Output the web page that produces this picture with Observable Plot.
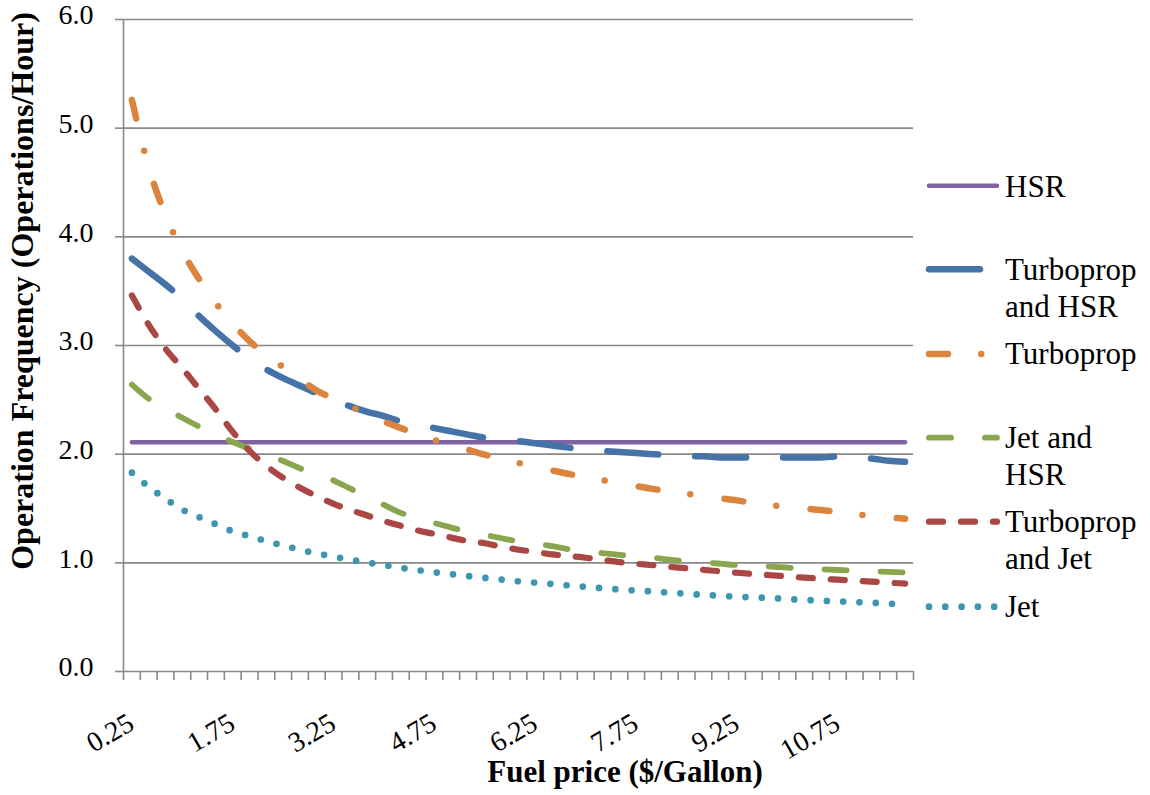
<!DOCTYPE html>
<html>
<head>
<meta charset="utf-8">
<script src="https://cdn.jsdelivr.net/npm/d3@7"></script>
<script src="https://cdn.jsdelivr.net/npm/@observablehq/plot@0.6"></script>
<style>
  body { margin: 0; background: #fff; }
  #wrap { position: relative; width: 1150px; height: 795px; font-family: 'Liberation Serif', 'Times New Roman', serif; }
  #legend { position: absolute; left: 0; top: 0; pointer-events: none; }
</style>
</head>
<body>
<div id="wrap"></div>
<script>
// ---- Data ----
const prices = [0.25, 0.5, 0.75, 1, 1.25, 1.5, 1.75, 2, 2.25, 2.5, 2.75, 3, 3.25, 3.5, 3.75, 4,
  4.25, 4.5, 4.75, 5, 5.25, 5.5, 5.75, 6, 6.25, 6.5, 6.75, 7, 7.25, 7.5, 7.75, 8,
  8.25, 8.5, 8.75, 9, 9.25, 9.5, 9.75, 10, 10.25, 10.5, 10.75, 11, 11.25, 11.5, 11.75];

const xTickValues = [0.25, 1.75, 3.25, 4.75, 6.25, 7.75, 9.25, 10.75];
const xTickLabels = ["0.25", "1.75", "3.25", "4.75", "6.25", "7.75", "9.25", "10.75"];
const yTickValues = [0, 1, 2, 3, 4, 5, 6];
const yTickLabels = ["0.0", "1.0", "2.0", "3.0", "4.0", "5.0", "6.0"];

const seriesNames = ["HSR", "Turboprop and HSR", "Turboprop", "Jet and HSR", "Turboprop and Jet", "Jet"];

const hsr = [2.11, 2.11, 2.11, 2.11, 2.11, 2.11, 2.11, 2.11, 2.11, 2.11, 2.11, 2.11, 2.11, 2.11, 2.11, 2.11,
  2.11, 2.11, 2.11, 2.11, 2.11, 2.11, 2.11, 2.11, 2.11, 2.11, 2.11, 2.11, 2.11, 2.11, 2.11, 2.11,
  2.11, 2.11, 2.11, 2.11, 2.11, 2.11, 2.11, 2.11, 2.11, 2.11, 2.11, 2.11, 2.11, 2.11, 2.11];

const turbopropHsr = [3.80, 3.68, 3.56, 3.43, 3.27, 3.13, 3.00, 2.88, 2.78, 2.70, 2.63, 2.56, 2.50, 2.44, 2.39, 2.35,
  2.30, 2.27, 2.24, 2.21, 2.18, 2.15, 2.13, 2.12, 2.10, 2.08, 2.06, 2.04, 2.03, 2.02, 2.01, 2.00,
  1.99, 1.98, 1.98, 1.97, 1.97, 1.97, 1.97, 1.97, 1.97, 1.97, 1.98, 1.97, 1.96, 1.94, 1.93];

const turboprop = [5.26, 4.64, 4.20, 3.87, 3.61, 3.39, 3.20, 3.04, 2.915, 2.80, 2.69, 2.585, 2.51, 2.44, 2.365, 2.30,
  2.24, 2.185, 2.13, 2.08, 2.04, 1.995, 1.955, 1.918, 1.883, 1.85, 1.818, 1.787, 1.76, 1.734, 1.707, 1.68,
  1.657, 1.635, 1.613, 1.594, 1.575, 1.55, 1.53, 1.516, 1.50, 1.486, 1.468, 1.448, 1.434, 1.419, 1.405];

const jetHsr = [2.64, 2.51, 2.42, 2.335, 2.253, 2.18, 2.112, 2.05, 1.994, 1.937, 1.87, 1.813, 1.758, 1.682, 1.607, 1.533,
  1.46, 1.41, 1.367, 1.324, 1.287, 1.257, 1.226, 1.196, 1.176, 1.153, 1.125, 1.106, 1.089, 1.073, 1.06, 1.048,
  1.029, 1.013, 1.004, 0.992, 0.979, 0.973, 0.966, 0.955, 0.947, 0.941, 0.934, 0.928, 0.922, 0.917, 0.912];

const turbopropJet = [3.46, 3.19, 2.97, 2.79, 2.60, 2.41, 2.205, 2.03, 1.892, 1.782, 1.691, 1.613, 1.543, 1.486, 1.436, 1.384,
  1.34, 1.298, 1.266, 1.232, 1.20, 1.18, 1.148, 1.121, 1.10, 1.078, 1.063, 1.047, 1.027, 1.007, 0.992, 0.978,
  0.963, 0.950, 0.936, 0.922, 0.909, 0.897, 0.886, 0.875, 0.864, 0.854, 0.845, 0.836, 0.827, 0.818, 0.809];

const jet = [1.83, 1.70, 1.59, 1.49, 1.42, 1.355, 1.29, 1.245, 1.20, 1.16, 1.12, 1.087, 1.057, 1.029, 1.003, 0.98,
  0.954, 0.933, 0.913, 0.896, 0.878, 0.862, 0.846, 0.83, 0.818, 0.805, 0.792, 0.779, 0.767, 0.755, 0.745, 0.736,
  0.726, 0.715, 0.706, 0.697, 0.689, 0.682, 0.676, 0.667, 0.659, 0.652, 0.645, 0.639, 0.633, 0.625, 0.62];

const seriesValues = [hsr, turbopropHsr, turboprop, jetHsr, turbopropJet, jet];

// ---- Styles ----
const styles = [
  {color: "#8064A2", width: 4.5, dash: null},
  {color: "#4572A7", width: 6.5, dash: "51,37"},
  {color: "#DB843D", width: 6.5, dash: "19,33.2,0,34.5"},
  {color: "#89A54E", width: 5.8, dash: "22,34"},
  {color: "#AA4643", width: 6.2, dash: "14,18"},
  {color: "#3D96AE", width: 6.7, dash: "0,16.3"}
];

const FONT = "'Liberation Serif', 'Times New Roman', serif";

// ---- Build ----
const xDomain = [prices[0] - 0.125, prices[prices.length - 1] + 0.125];
const boundaries = prices.map(p => p - 0.125).concat([xDomain[1]]);

const lineMarks = seriesNames.map((name, s) => {
  const rows = prices.map((p, i) => ({price: p, value: seriesValues[s][i]}));
  const st = styles[s];
  return Plot.line(rows, {
    x: "price", y: "value",
    stroke: st.color, strokeWidth: st.width,
    strokeDasharray: st.dash || undefined,
    strokeLinecap: "round", strokeLinejoin: "round",
    curve: "monotone-x"
  });
});

const chart = Plot.plot({
  width: 1150, height: 795,
  marginLeft: 123, marginRight: 237, marginTop: 19, marginBottom: 124,
  style: {fontFamily: FONT, fontSize: "28px", color: "black", background: "white", overflow: "visible"},
  x: {type: "linear", domain: xDomain},
  y: {type: "linear", domain: [0, 6]},
  marks: [
    Plot.gridY(yTickValues, {stroke: "#898989", strokeOpacity: 1, strokeWidth: 1.6}),
    Plot.ruleX([xDomain[0]], {stroke: "#898989", strokeWidth: 1.6}),
    Plot.axisY(yTickValues, {tickSize: 8, tickFormat: () => "", stroke: "#898989", strokeWidth: 1.6, label: null}),
    Plot.axisX(boundaries, {tickSize: 9, tickFormat: () => "", stroke: "#898989", strokeWidth: 1.6, label: null}),
    Plot.text(yTickValues, {y: d => d, text: (d, i) => yTickLabels[i], frameAnchor: "left",
      textAnchor: "end", dx: -30, dy: -4, fontSize: 28, fill: "black", fontFamily: FONT}),
    Plot.text(xTickValues, {x: d => d, text: (d, i) => xTickLabels[i], frameAnchor: "bottom",
      textAnchor: "end", lineAnchor: "bottom", rotate: -30, dx: 4, dy: 57, fontSize: 28, fill: "black", fontFamily: FONT}),
    ...lineMarks
  ]
});

const wrap = document.getElementById("wrap");
wrap.appendChild(chart);

// Axis titles
const svg = d3.select(chart);
svg.append("text")
  .attr("transform", "translate(33,291) rotate(-90)")
  .attr("text-anchor", "middle")
  .attr("font-family", FONT).attr("font-weight", "bold").attr("font-size", 32)
  .attr("fill", "black")
  .text("Operation Frequency (Operations/Hour)");
svg.append("text")
  .attr("x", 625).attr("y", 782)
  .attr("text-anchor", "middle")
  .attr("font-family", FONT).attr("font-weight", "bold").attr("font-size", 31)
  .attr("fill", "black")
  .text("Fuel price ($/Gallon)");

// Legend (overlay on right side)
const legendLayout = [
  {y: 185.7, lines: [196.7]},
  {y: 269.3, lines: [280, 316.7], text: ["Turboprop", "and HSR"]},
  {y: 354, lines: [364]},
  {y: 437.7, lines: [448, 485], text: ["Jet and", "HSR"]},
  {y: 521.7, lines: [531.7, 569.3], text: ["Turboprop", "and Jet"]},
  {y: 606.7, lines: [616.7]}
];
const leg = d3.select(wrap).append("svg")
  .attr("id", "legend").attr("width", 1150).attr("height", 795);
seriesNames.forEach((name, s) => {
  const L = legendLayout[s];
  const st = styles[s];
  leg.append("line")
    .attr("x1", 929).attr("x2", 997).attr("y1", L.y).attr("y2", L.y)
    .attr("stroke", st.color).attr("stroke-width", st.width)
    .attr("stroke-linecap", "round")
    .attr("stroke-dasharray", st.dash || null);
  const parts = L.text || [name];
  parts.forEach((t, k) => {
    leg.append("text")
      .attr("x", 1005).attr("y", L.lines[k])
      .attr("font-family", FONT).attr("font-size", 31).attr("fill", "black")
      .text(t);
  });
});
</script>
</body>
</html>
